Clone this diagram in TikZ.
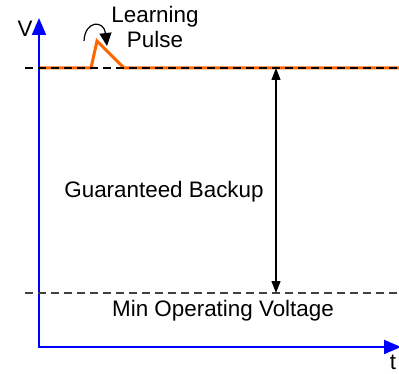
\documentclass[tikz,border=0pt]{standalone}
\usepackage{fontspec}
\setmainfont{Liberation Sans}
\usetikzlibrary{arrows.meta, positioning, calc}

\definecolor{pulseorange}{RGB}{255,102,0}
\definecolor{axisblue}{RGB}{0,0,255}

\begin{document}
\begin{tikzpicture}[x=0.5pt, y=-0.5pt, font=\fontsize{11.2}{13}\selectfont,
	axis/.style={draw=axisblue, line width=1pt, {Triangle[length=8.5pt,width=7pt]}-{Triangle[length=8.5pt,width=7pt]}},
	level/.style={dash pattern=on 4pt off 2.5pt, line width=0.6pt},
	span/.style={line width=0.6pt, {Triangle[length=6pt,width=4.5pt]}-{Triangle[length=6pt,width=4.5pt]}}]
			
			\useasboundingbox (0,0) rectangle (399,373);
			
			% Axes
			\coordinate (O) at (39,347);
			\coordinate (ytop) at (39,18);
			\coordinate (xend) at (401,347);
			\draw[axis] (ytop) -- (O) -- (xend);
			\node[anchor=base] (V) at (25,37) {V};
			\node[anchor=base] (t) at (393,369) {t};
			
			% Battery level with learning pulse
			\coordinate (hi0) at (25,68);
			\coordinate (hi1) at (399,68);
			\draw[pulseorange, line width=1.5pt, line join=miter] (40,68) -- (91,68) -- (97,41) -- (124,68) -- (hi1);
			\draw[level] (hi0) -- (hi1);
			\draw[line width=0.6pt, -{Triangle[length=6.5pt,width=6pt]}] (84,41) .. controls (85,20) and (104,20) .. (107,46);
			\node[anchor=base] (lrn) at (155,23) {Learning};
			\node[anchor=base] (pls) at (155,48) {Pulse};
			
			% Min level
			\coordinate (lo0) at (25,293);
			\coordinate (lo1) at (399,293);
			\draw[level, black!75] (lo0) -- (lo1);
			\node[anchor=base] (minv) at (223,316) {Min Operating Voltage};
			
			% Backup span
			\coordinate (stop) at (276,68);
			\coordinate (sbot) at (276,293);
			\draw[span] (stop) -- (sbot);
			\node[anchor=base] (gb) at (164,197) {Guaranteed Backup};
			
		\end{tikzpicture}
\end{document}
